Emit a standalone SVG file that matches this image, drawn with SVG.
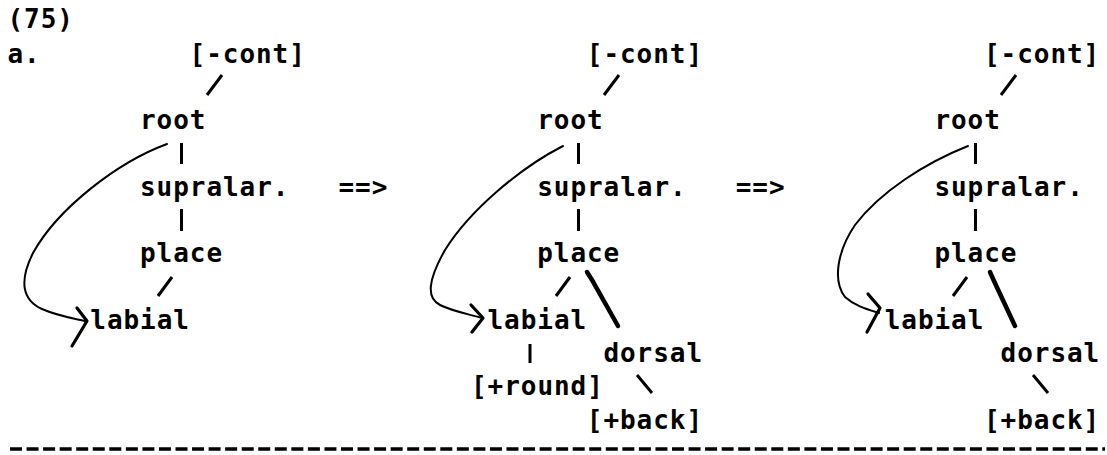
<svg xmlns="http://www.w3.org/2000/svg" width="1107" height="455" viewBox="0 0 1107 455">
<style>
text{font-family:"DejaVu Sans Mono","Liberation Mono",monospace;font-weight:bold;font-size:26px;letter-spacing:0.95px;fill:#000}
.typed{stroke:#000;stroke-width:3;stroke-linecap:butt;fill:none}
.hand{stroke:#000;stroke-width:2;fill:none;stroke-linecap:round;stroke-linejoin:round}
.head{stroke:#000;stroke-width:3.2;fill:none;stroke-linecap:round;stroke-linejoin:round}
.bold{stroke:#000;stroke-width:4.5;fill:none;stroke-linecap:round}
</style>
<rect width="1107" height="455" fill="#fff"/>
<g id="labels">
<text x="7.5" y="28">(75)</text>
<text x="7.5" y="62.5">a.</text>
<text id="arrow1" x="338.5" y="195.5">==&gt;</text>
<text id="arrow2" x="735.7" y="195.5">==&gt;</text>
</g>
<g id="t1-cont"><text x="189.6" y="62.5">[-cont]</text></g>
<g id="t1-root"><text x="140" y="128.5">root</text></g>
<g id="t1-supralar"><text x="140" y="195.5">supralar.</text></g>
<g id="t1-place"><text x="140" y="262">place</text></g>
<g id="t1-labial"><text x="90.3" y="328.5">labial</text></g>
<g id="t2-cont"><text x="586.8" y="62.5">[-cont]</text></g>
<g id="t2-root"><text x="537.2" y="128.5">root</text></g>
<g id="t2-supralar"><text x="537.2" y="195.5">supralar.</text></g>
<g id="t2-place"><text x="537.2" y="262">place</text></g>
<g id="t2-labial"><text x="487.5" y="328.5">labial</text></g>
<g id="t2-dorsal"><text x="603.4" y="362">dorsal</text></g>
<g id="t2-round"><text x="471" y="395">[+round]</text></g>
<g id="t2-back"><text x="586.8" y="428.5">[+back]</text></g>
<g id="t3-cont"><text x="984" y="62.5">[-cont]</text></g>
<g id="t3-root"><text x="934.4" y="128.5">root</text></g>
<g id="t3-supralar"><text x="934.4" y="195.5">supralar.</text></g>
<g id="t3-place"><text x="934.4" y="262">place</text></g>
<g id="t3-labial"><text x="884.7" y="328.5">labial</text></g>
<g id="t3-dorsal"><text x="1000.6" y="362">dorsal</text></g>
<g id="t3-back"><text x="984" y="428.5">[+back]</text></g>
<g id="connectors">
<!-- tree 1 -->
<line class="typed" x1="222" y1="75" x2="207" y2="95"/>
<line class="typed" x1="181.5" y1="143" x2="181.5" y2="164"/>
<line class="typed" x1="181.5" y1="209" x2="181.5" y2="231"/>
<line class="typed" x1="172" y1="277" x2="158" y2="296"/>
<path class="hand" d="M167,144 C118,162 58,208 33,253 C19,281 22,300 42,309 C58,316 72,318 85,321"/>
<path class="head" d="M77,308 L87,321 L72,346"/>
<!-- tree 2 -->
<line class="typed" x1="619" y1="75" x2="604" y2="95"/>
<line class="typed" x1="578.5" y1="143" x2="578.5" y2="164"/>
<line class="typed" x1="578.5" y1="209" x2="578.5" y2="231"/>
<line class="typed" x1="570" y1="277" x2="556" y2="296"/>
<path class="bold" d="M587,272 L592,280 L618,326"/>
<line class="typed" x1="530" y1="344" x2="530" y2="363"/>
<line class="typed" x1="637" y1="375" x2="652" y2="393"/>
<path class="hand" d="M563,146 C520,168 470,210 445,250 C428,280 426,298 440,305 C452,311 468,314 482,318"/>
<path class="head" d="M471,305 L483,318 L472,332"/>
<!-- tree 3 -->
<line class="typed" x1="1016" y1="75" x2="1001" y2="95"/>
<line class="typed" x1="975.5" y1="143" x2="975.5" y2="164"/>
<line class="typed" x1="975.5" y1="209" x2="975.5" y2="231"/>
<line class="typed" x1="967" y1="277" x2="953" y2="296"/>
<path class="bold" d="M990,272 L994,281 L1015,326"/>
<line class="typed" x1="1033" y1="375" x2="1048" y2="393"/>
<path class="hand" d="M968,146 C925,163 880,192 855,225 C838,250 832,280 845,297 C855,306 866,309 879,313"/>
<path class="head" d="M868,294 L880,308 L867,332"/>
</g>
<line id="rule" x1="10" y1="449" x2="1105" y2="449" stroke="#000" stroke-width="3.5" stroke-dasharray="12 4.55"/>
</svg>
